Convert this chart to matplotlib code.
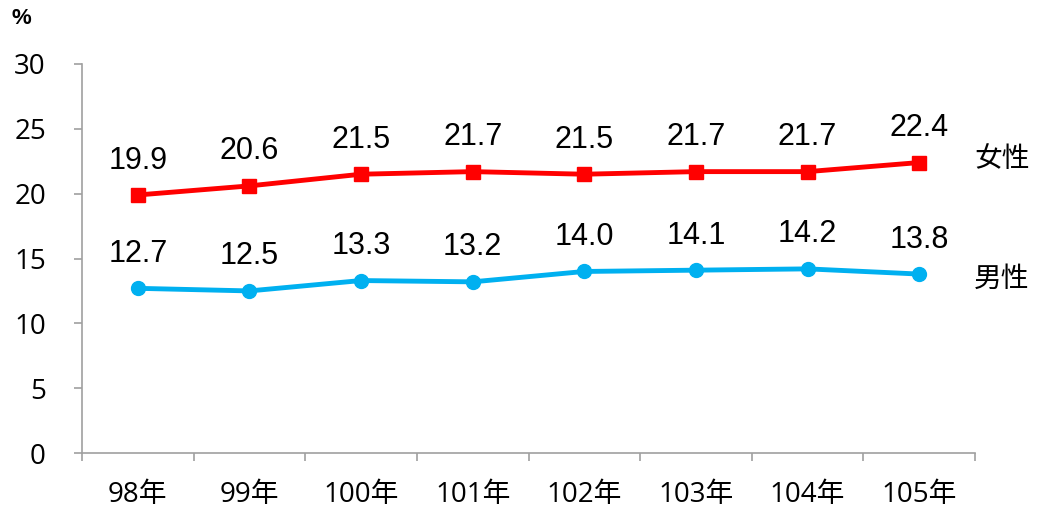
import matplotlib
matplotlib.use('Agg')
import matplotlib.pyplot as plt

plt.rcParams['font.family'] = ['Open Sans', 'Noto Sans CJK TC', 'DejaVu Sans']

anios = ["98年", "99年", "100年", "101年", "102年", "103年", "104年", "105年"]
mujeres = [19.9, 20.6, 21.5, 21.7, 21.5, 21.7, 21.7, 22.4]
hombres = [12.7, 12.5, 13.3, 13.2, 14.0, 14.1, 14.2, 13.8]

rojo = "#FF0000"
celeste = "#00B0F0"
gris = "#A0A0A0"

fig = plt.figure(figsize=(10.41, 5.15), dpi=100)
ax = fig.add_axes([82 / 1041, 62 / 515, 893 / 1041, 389 / 515])

x = list(range(len(anios)))
ax.plot(x, mujeres, color=rojo, lw=3.5, marker="s", ms=10, zorder=3)
ax.plot(x, hombres, color=celeste, lw=3.5, marker="o", ms=10, zorder=3)

for serie in (mujeres, hombres):
    for i, v in enumerate(serie):
        ax.annotate(f"{v:.1f}", (i, v), xytext=(0, 14), textcoords="offset points",
                    ha="center", va="bottom", fontsize=22, family="Liberation Sans")

ax.text(7.49, 22.7, "女性", fontsize=20, va="center", ha="left",
        family=["Noto Sans CJK TC"])
ax.text(7.49, 13.4, "男性", fontsize=20, va="center", ha="left",
        family=["Noto Sans CJK TC"])

ax.set_xlim(-0.5, 7.5)
ax.set_ylim(0, 30)
ax.set_yticks(range(0, 31, 5))
ax.set_xticks([i - 0.5 for i in range(len(anios) + 1)])
ax.set_xticklabels([])
ax.set_xticks(x, minor=True)
ax.set_xticklabels(anios, minor=True)
ax.tick_params(axis="x", which="minor", length=0, pad=20, labelsize=20)
ax.tick_params(axis="x", which="major", length=6, color=gris, width=1.2)
ax.tick_params(axis="y", length=6, color=gris, width=1.2, labelsize=20, pad=20)

for lado in ("top", "right"):
    ax.spines[lado].set_visible(False)
for lado in ("left", "bottom"):
    ax.spines[lado].set_color(gris)
    ax.spines[lado].set_linewidth(1.2)

fig.text(12 / 1041, 1 - 19 / 515, "%", fontsize=16, fontweight="bold", va="center",
         family="Liberation Sans")

fig.savefig("out.png", dpi=100)
plt.close(fig)
